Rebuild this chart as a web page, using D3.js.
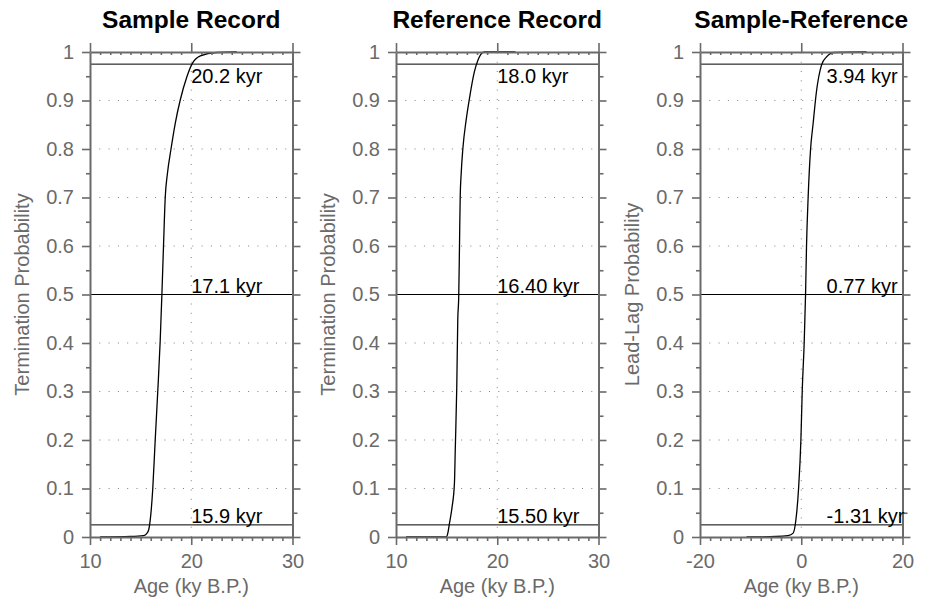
<!DOCTYPE html>
<html>
<head>
<meta charset="utf-8">
<script src="https://cdn.jsdelivr.net/npm/d3@7"></script>
<style>
  body { margin: 0; background: #fff; }
  svg text { font-family: "Liberation Sans", Arial, Helvetica, sans-serif; }
</style>
</head>
<body>
<div id="chart"></div>
<script>
// ---- data ----
const titles = ["Sample Record", "Reference Record", "Sample-Reference"];
const yTitles = ["Termination Probability", "Termination Probability", "Lead-Lag Probability"];
const xDomains = [[10, 30], [10, 30], [-20, 20]];
const xMajorTicks = [[10, 20, 30], [10, 20, 30], [-20, 0, 20]];
const xMinorStep = [1, 1, 2];
const yMajorTicks = [0, 0.1, 0.2, 0.3, 0.4, 0.5, 0.6, 0.7, 0.8, 0.9, 1];
const yMinorTicks = [0.05, 0.15, 0.25, 0.35, 0.45, 0.55, 0.65, 0.75, 0.85, 0.95];
const levels = [0.975, 0.5, 0.025];

const sampleAge  = [11.0, 14.0, 15.3, 15.6, 15.8, 15.92, 16.2, 16.44, 16.7, 16.93, 17.1, 17.26, 17.43, 17.65, 18.0, 18.42, 18.9, 19.57, 20.07, 20.9, 22.5, 24.5];
const sampleProb = [0, 0.001, 0.003, 0.007, 0.015, 0.03, 0.10, 0.20, 0.303, 0.403, 0.5, 0.6, 0.7, 0.75, 0.80, 0.853, 0.90, 0.949, 0.975, 0.992, 0.999, 1];
const sampleLabels = ["20.2 kyr", "17.1 kyr", "15.9 kyr"];

const refAge  = [11.0, 14.95, 15.12, 15.28, 15.54, 15.77, 15.86, 16.0, 16.1, 16.2, 16.27, 16.34, 16.44, 16.6, 16.93, 17.26, 17.75, 18.09, 18.5, 18.74, 21.8];
const refProb = [0, 0, 0.008, 0.028, 0.062, 0.11, 0.186, 0.307, 0.447, 0.5, 0.6, 0.7, 0.75, 0.8, 0.86, 0.905, 0.96, 0.983, 0.998, 1, 1];
const refLabels = ["18.0 kyr", "16.40 kyr", "15.50 kyr"];

const diffAge  = [-10.8, -5.0, -2.6, -1.6, -1.06, -0.53, -0.07, 0.2, 0.59, 0.85, 1.04, 1.36, 1.83, 2.35, 3.0, 4.0, 5.0, 6.5, 12.9];
const diffProb = [0, 0.001, 0.003, 0.008, 0.035, 0.10, 0.20, 0.303, 0.403, 0.5, 0.6, 0.7, 0.798, 0.853, 0.918, 0.973, 0.99, 0.999, 1];
const diffLabels = ["3.94 kyr", "0.77 kyr", "-1.31 kyr"];

const labelX = [20, 20, 5];

const curves = [
  {age: sampleAge, prob: sampleProb, labels: sampleLabels},
  {age: refAge, prob: refProb, labels: refLabels},
  {age: diffAge, prob: diffProb, labels: diffLabels}
];

// ---- layout ----
const W = 930, H = 601;
const panelLeft = [90, 396, 700], panelW = 202.5;
const plotTop = 52, plotBottom = 537;
const axisColor = "#6a6a6a";

const svg = d3.select("#chart").append("svg")
    .attr("width", W)
    .attr("height", H);

curves.forEach((c, i) => {
  const left = panelLeft[i];
  const x = d3.scaleLinear().domain(xDomains[i]).range([left, left + panelW]);
  const y = d3.scaleLinear().domain([0, 1]).range([plotBottom, plotTop]);
  const g = svg.append("g");

  const xMinor = d3.range(xDomains[i][0], xDomains[i][1] + 0.001, xMinorStep[i])
    .filter(v => xMajorTicks[i].indexOf(v) < 0);

  // dotted grid
  g.selectAll(".hgrid")
    .data(yMajorTicks.filter(v => v > 0 && v < 1))
    .join("line")
      .attr("x1", x.range()[0]).attr("x2", x.range()[1])
      .attr("y1", d => y(d)).attr("y2", d => y(d))
      .attr("stroke", "#808080")
      .attr("stroke-width", 1)
      .attr("stroke-dasharray", "1,8.3");

  g.append("line")
      .attr("x1", x(xMajorTicks[i][1])).attr("x2", x(xMajorTicks[i][1]))
      .attr("y1", y(0)).attr("y2", y(1))
      .attr("stroke", "#808080")
      .attr("stroke-width", 1)
      .attr("stroke-dasharray", "1,8.3");

  // probability levels
  g.selectAll(".level")
    .data(levels)
    .join("line")
      .attr("x1", x.range()[0]).attr("x2", x.range()[1])
      .attr("y1", d => y(d)).attr("y2", d => y(d))
      .attr("stroke", "#000")
      .attr("stroke-width", 1);

  // cumulative curve
  const pts = c.age.map((a, k) => [a, c.prob[k]]);
  g.append("path")
    .datum(pts)
    .attr("fill", "none")
    .attr("stroke", "#000")
    .attr("stroke-width", 1.3)
    .attr("d", d3.line()
      .x(d => x(d[0]))
      .y(d => y(d[1]))
      .curve(d3.curveMonotoneX));

  // axes
  const styleAxis = (sel, keepDomain) => {
    sel.selectAll("line").attr("stroke", axisColor).attr("stroke-width", 1.6);
    sel.selectAll("path").attr("stroke", axisColor).attr("stroke-width", 2)
      .attr("display", keepDomain ? null : "none");
    sel.selectAll("text").attr("fill", axisColor).attr("font-size", 20);
  };

  g.append("g")
      .attr("transform", `translate(0,${plotBottom})`)
      .call(d3.axisBottom(x).tickValues(xMajorTicks[i]).tickSizeInner(8).tickSizeOuter(0).tickPadding(9)
        .tickFormat(d => String(d)))
      .call(s => styleAxis(s, true));
  g.append("g")
      .attr("transform", `translate(0,${plotBottom})`)
      .call(d3.axisBottom(x).tickValues(xMinor).tickSize(4).tickFormat(""))
      .call(s => styleAxis(s, false));
  g.append("g")
      .attr("transform", `translate(0,${plotTop})`)
      .call(d3.axisTop(x).tickValues(xMajorTicks[i]).tickSizeInner(9).tickSizeOuter(0).tickFormat(""))
      .call(s => styleAxis(s, true));
  g.append("g")
      .attr("transform", `translate(0,${plotTop})`)
      .call(d3.axisTop(x).tickValues(xMinor).tickSize(-3).tickFormat(""))
      .call(s => styleAxis(s, false));

  g.append("g")
      .attr("transform", `translate(${left},0)`)
      .call(d3.axisLeft(y).tickValues(yMajorTicks).tickSizeInner(8).tickSizeOuter(0).tickPadding(8)
        .tickFormat(d => String(+d.toFixed(1))))
      .call(s => styleAxis(s, true));
  g.append("g")
      .attr("transform", `translate(${left},0)`)
      .call(d3.axisLeft(y).tickValues(yMinorTicks).tickSize(4).tickFormat(""))
      .call(s => styleAxis(s, false));
  g.append("g")
      .attr("transform", `translate(${left + panelW},0)`)
      .call(d3.axisRight(y).tickValues(yMajorTicks).tickSizeInner(8).tickSizeOuter(0).tickFormat(""))
      .call(s => styleAxis(s, true));
  g.append("g")
      .attr("transform", `translate(${left + panelW},0)`)
      .call(d3.axisRight(y).tickValues(yMinorTicks).tickSize(5).tickFormat(""))
      .call(s => styleAxis(s, false));

  // level labels
  g.selectAll(".lab")
    .data(levels)
    .join("text")
      .attr("x", x(labelX[i]))
      .attr("y", (d, k) => k === 0 ? y(d) + 19 : y(d) - 1.5)
      .attr("font-size", 20)
      .attr("fill", "#000")
      .text((d, k) => c.labels[k]);

  // titles
  g.append("text")
      .attr("x", left + panelW / 2)
      .attr("y", 28)
      .attr("text-anchor", "middle")
      .attr("font-size", 24.5)
      .attr("font-weight", "bold")
      .attr("fill", "#000")
      .text(titles[i]);

  g.append("text")
      .attr("x", left + panelW / 2)
      .attr("y", 593)
      .attr("text-anchor", "middle")
      .attr("font-size", 20)
      .attr("fill", axisColor)
      .text("Age (ky B.P.)");

  g.append("text")
      .attr("transform", `translate(${left - 61},${(plotTop + plotBottom) / 2}) rotate(-90)`)
      .attr("text-anchor", "middle")
      .attr("font-size", 20)
      .attr("fill", axisColor)
      .text(yTitles[i]);
});
</script>
</body>
</html>
